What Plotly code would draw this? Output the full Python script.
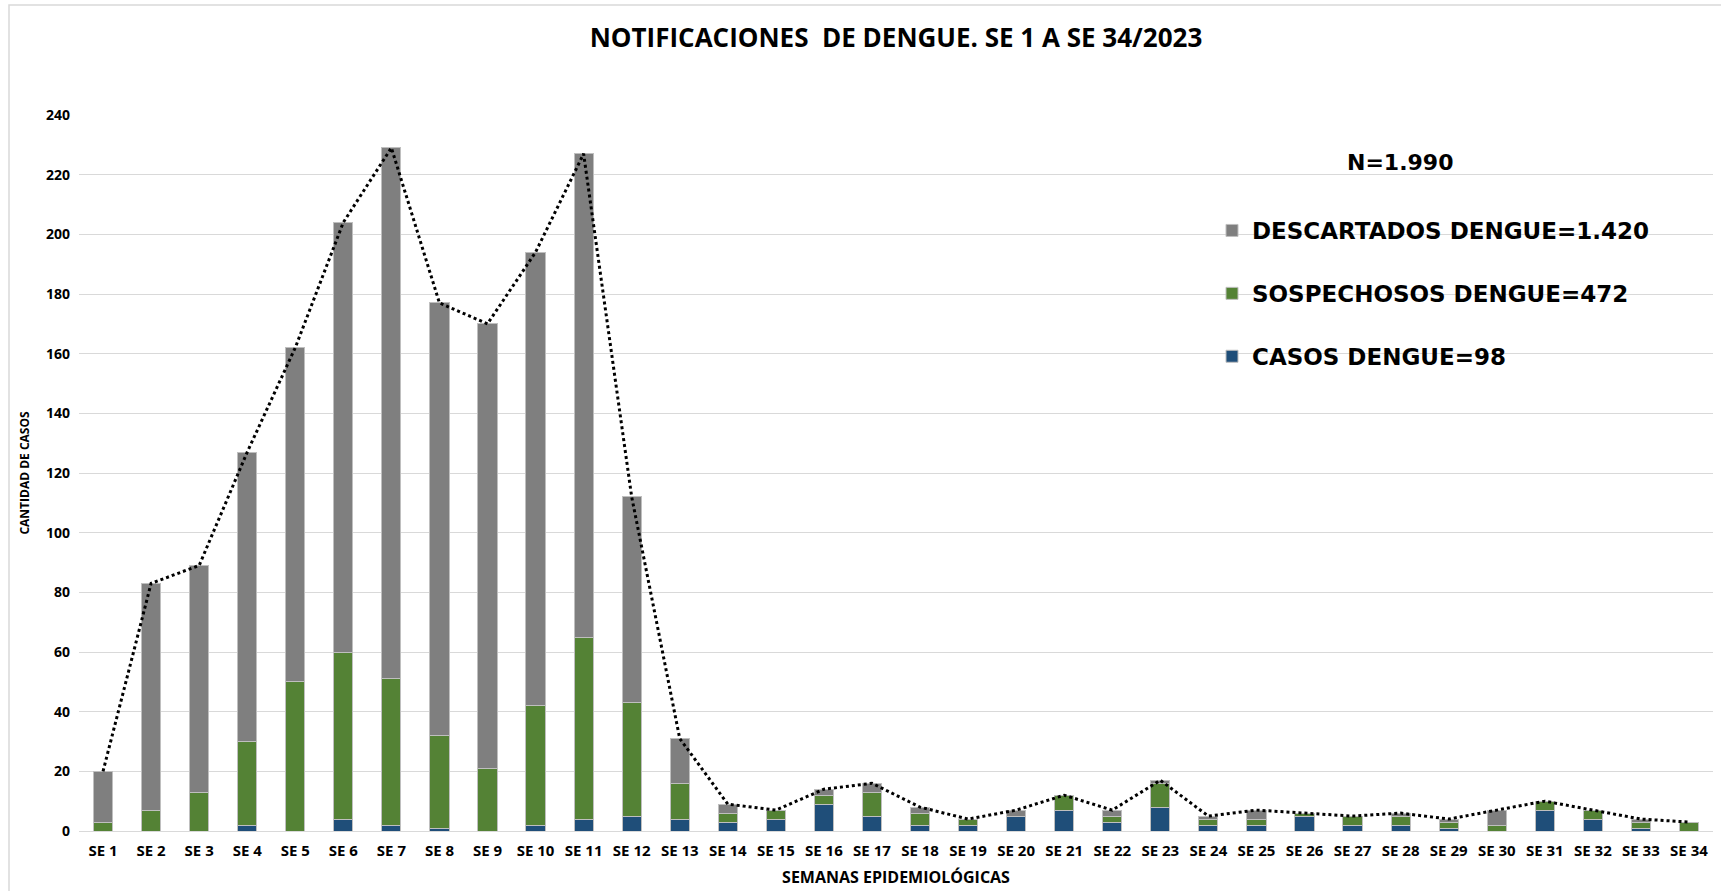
import plotly.graph_objects as go

semanas = [f"SE {i}" for i in range(1, 35)]

casos = [0, 0, 0, 2, 0, 4, 2, 1, 0, 2, 4, 5, 4,
         3, 4, 9, 5, 2, 2, 5, 7, 3, 8,
         2, 2, 5, 2, 2, 1, 0, 7, 4, 1, 0]
sospechosos = [3, 7, 13, 28, 50, 56, 49, 31, 21, 40, 61, 38, 12,
               3, 3, 3, 8, 4, 2, 0, 5, 2, 8,
               2, 2, 1, 3, 3, 2, 2, 3, 3, 2, 3]
descartados = [17, 76, 76, 97, 112, 144, 178, 145, 149, 152, 162, 69, 15,
               3, 0, 2, 3, 2, 0, 2, 0, 2, 1,
               1, 3, 0, 0, 1, 1, 5, 0, 0, 1, 0]
totales = [c + s + d for c, s, d in zip(casos, sospechosos, descartados)]

nombres = ["CASOS DENGUE=98", "SOSPECHOSOS DENGUE=472", "DESCARTADOS DENGUE=1.420"]
colores = ["#1F4E79", "#548235", "#7F7F7F"]
rangos = [3, 2, 1]
titulo = "NOTIFICACIONES  DE DENGUE. SE 1 A SE 34/2023"
total_n = "N=1.990"

W, H = 1721, 891
L, R, T, B = 79, 8, 115, 60
pw, ph = W - L - R, H - T - B

def px_x(p):
    return (p - L) / pw

def px_y(p):
    return (H - B - p) / ph

fig = go.Figure()
for serie, nombre, color, rango in zip([casos, sospechosos, descartados], nombres, colores, rangos):
    fig.add_trace(go.Bar(
        x=semanas, y=serie, name=nombre, legendgroup=nombre, legendrank=rango,
        marker=dict(color=color, line=dict(color="#BFBFBF", width=1)),
    ))

fig.add_trace(go.Scatter(
    x=semanas, y=totales, mode="lines", showlegend=False,
    line=dict(color="black", width=3, dash="dot"),
))

font_txt = "Open Sans"
font_leg = "DejaVu Sans"

fig.update_layout(
    width=W, height=H,
    barmode="stack", bargap=0.6,
    paper_bgcolor="white", plot_bgcolor="white",
    margin=dict(l=L, r=R, t=T, b=B, autoexpand=False),
    title=dict(text=titulo, x=0.5, xref="paper", y=1 - 38 / H, yanchor="middle",
               font=dict(family=font_txt, size=26, color="#000000", weight="bold")),
    legend=dict(x=px_x(1212), y=px_y(209), xanchor="left", yanchor="top",
                traceorder="grouped", tracegroupgap=30,
                font=dict(family=font_leg, size=23, color="#000000", weight="bold"),
                bgcolor="rgba(0,0,0,0)"),
    xaxis=dict(
        title=dict(text="SEMANAS EPIDEMIOLÓGICAS", standoff=12,
                   font=dict(family=font_txt, size=16, color="#000000", weight="bold")),
        tickfont=dict(family=font_txt, size=15, color="#000000", weight="bold"),
        showgrid=False, showline=False, ticks="", ticklabelstandoff=9,
        automargin=False,
    ),
    yaxis=dict(
        title=dict(text="CANTIDAD DE CASOS", standoff=13,
                   font=dict(family=font_txt, size=12, color="#000000", weight="bold")),
        range=[0, 240], dtick=20,
        tickfont=dict(family=font_txt, size=14, color="#000000", weight="bold"),
        showgrid=True, gridcolor="#D9D9D9", gridwidth=1,
        zeroline=True, zerolinecolor="#D9D9D9", zerolinewidth=1,
        showline=False, ticks="", ticklabelstandoff=8,
        automargin=False,
    ),
    annotations=[dict(
        text=total_n, xref="paper", yref="paper", x=px_x(1400), y=px_y(162),
        xanchor="center", yanchor="middle", showarrow=False,
        font=dict(family=font_leg, size=22, color="#000000", weight="bold"),
    )],
    shapes=[dict(
        type="rect", xref="paper", yref="paper",
        x0=px_x(9), x1=px_x(W + 20), y0=px_y(H + 20), y1=px_y(5),
        line=dict(color="#D9D9D9", width=1.5), fillcolor="rgba(0,0,0,0)", layer="below",
    )],
)

fig.write_html("out.html", config={"displayModeBar": False},
               post_script="document.body.style.margin='0';")
